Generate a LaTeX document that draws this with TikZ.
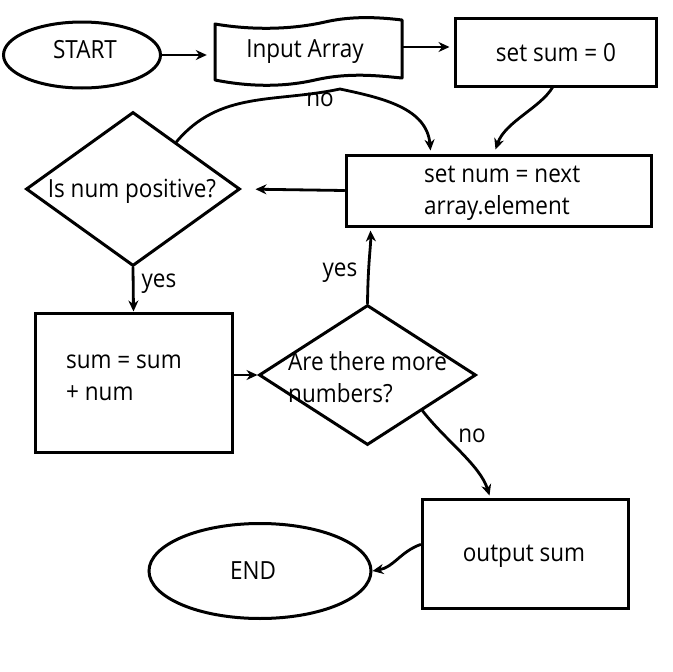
\documentclass[tikz,border=0pt]{standalone}
\usepackage{fontspec}
\setmainfont[FakeStretch=0.9]{Open Sans}
\usetikzlibrary{shapes.geometric,arrows.meta,calc}
\begin{document}
\begin{tikzpicture}[x=1pt,y=-1pt,
  every node/.style={font=\fontsize{25}{32}\selectfont},
  shp/.style={draw,line width=3pt,inner sep=0pt},
  boxs/.style={shp,rectangle},
  ell/.style={shp,ellipse},
  dia/.style={shp,diamond},
  lbl/.style={inner sep=0pt},
  conn/.style={line width=2.8pt,line cap=round,-{Stealth[length=11pt,width=10pt]}}
]
\useasboundingbox (0,0) rectangle (673,672);
% shapes
\node[ell,minimum width=157pt,minimum height=66pt] (start) at (82,55) {};
\node[lbl] (startt) at (85,50) {START};
\node[inner sep=0pt,minimum width=187pt,minimum height=58pt] (inp) at (308.5,51) {};
\draw[line width=3pt,line join=round]
  (215,24) .. controls (250,30) and (290,30) .. (325,22)
  .. controls (355,15) and (385,18) .. (402,20) -- (402,78)
  .. controls (380,76) and (350,72) .. (315,80)
  .. controls (280,88) and (245,86) .. (215,80) -- cycle;
\node[lbl] (inpt) at (305,52) {Input Array};
\node[boxs,minimum width=201pt,minimum height=68pt] (setsum) at (555.5,52) {};
\node[lbl] (setsumt) at (556,53) {set sum = 0};
\node[boxs,minimum width=305pt,minimum height=71pt] (setnum) at (498.5,190.5) {};
\node[lbl,align=left,anchor=west] (setnumt) at (424,193) {set num = next\\array.element};
\node[dia,minimum width=214pt,minimum height=154pt] (isnum) at (133,189) {};
\node[lbl] (isnumt) at (132,191) {Is num positive?};
\node[boxs,minimum width=197pt,minimum height=139pt] (sumr) at (133.5,382.5) {};
\node[lbl,align=left,anchor=west] (sumrt) at (66,378) {sum = sum\\+ num};
\node[dia,minimum width=217pt,minimum height=140pt] (are) at (367.5,375) {};
\node[lbl,align=left,anchor=west] (aret) at (288,377) {Are there more\\numbers?};
\node[boxs,minimum width=206pt,minimum height=109pt] (outsum) at (525,553.5) {};
\node[lbl] (outsumt) at (524,556) {output sum};
\node[ell,minimum width=222pt,minimum height=95pt] (endn) at (260,571) {};
\node[lbl] (endt) at (253,571) {END};
% labels
\node[lbl] (no1) at (320,100) {no};
\node[lbl] (yes1) at (159,284) {yes};
\node[lbl] (yes2) at (340,273) {yes};
\node[lbl] (no2) at (472,436) {no};
% connectors
\draw[conn,shorten >=8pt] (start.east) -- (start.east -| inp.west);
\draw[conn,shorten >=4pt] ([yshift=4pt]inp.east) -- ([yshift=4pt]inp.east -| setsum.west);
\draw[conn] ([xshift=-3pt]setsum.south) .. controls (540,108) and (505,122) .. ($(setnum.north west)+(151,-4)$);
\draw[conn,shorten >=14pt] (setnum.west) -- (isnum.east);
\coordinate (nomid) at (340,89);
\draw[conn] ($(isnum.north)!0.4!(isnum.east)$) to[out=50,in=192] (nomid) to[out=-12,in=95] ($(setnum.north west)+(86,-3)$);
\draw[conn] (isnum.south) -- (sumr.north);
\draw[conn] (sumr.east |- are.west) -- (are.west);
\draw[conn] (are.north) .. controls (368,262) and (371,245) .. ($(setnum.south west)+(26,3)$);
\draw[conn] ($(are.east)!0.5!(are.south)$) .. controls (445,440) and (480,465) .. ($(outsum.north west)+(69,-2)$);
\draw[conn] ([yshift=9pt]outsum.west) to[out=200,in=10] (endn.east);
\end{tikzpicture}
\end{document}
